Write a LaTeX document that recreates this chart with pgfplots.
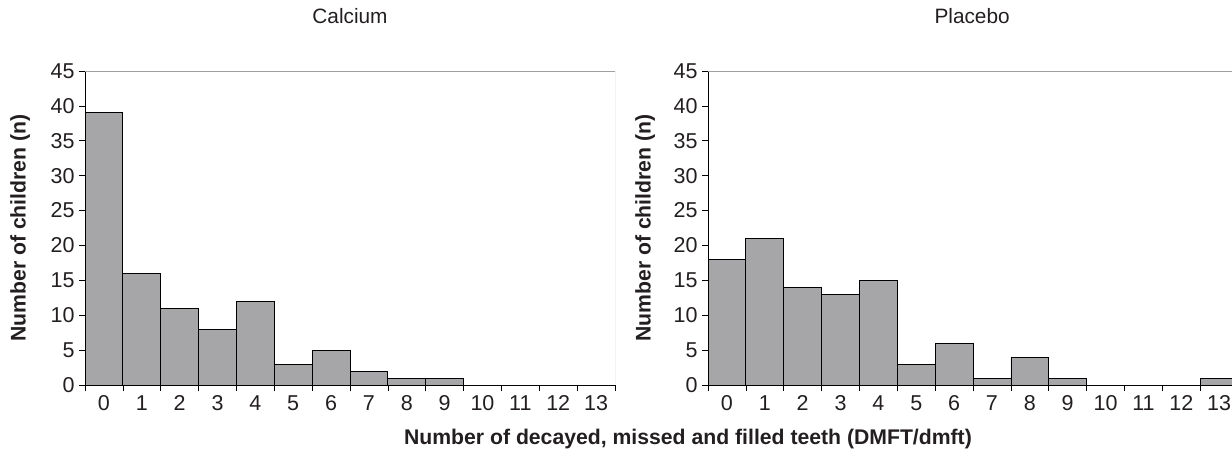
\documentclass[border=0pt]{standalone}
\usepackage{fontspec}
\setmainfont{Liberation Sans}
\usepackage{pgfplots}
\pgfplotsset{compat=1.18}
\definecolor{barfill}{RGB}{166,166,168}
\definecolor{spinegray}{RGB}{160,160,160}
\definecolor{txt}{RGB}{35,31,32}
\begin{document}
\begin{tikzpicture}[x=1pt,y=1pt]
\pgfplotsset{
  hist/.style={
    scale only axis,
    height=314pt,
    ymin=0, ymax=45,
    ytick={0,5,...,45},
    xtick={0,...,13},
    minor xtick={-0.5,0.5,...,13.5},
    major x tick style={draw=none},
    minor x tick style={black, line width=0.6pt},
    minor tick length=6pt,
    major tick length=6pt,
    tick align=outside,
    tick pos=left,
    separate axis lines,
    axis x line*=bottom,
    axis y line*=left,
    y axis line style={black,line width=0.9pt},
    x axis line style={black,line width=0.9pt},
    ytick style={black,line width=0.6pt},
    /pgf/number format/assume math mode=true,
    tick label style={font=\fontsize{21.5}{23}\selectfont, text=txt},
    yticklabel style={xshift=-1pt},
    xticklabel style={yshift=-1pt},
    ylabel style={font=\bfseries\fontsize{21.2}{23}\selectfont, text=txt, anchor=center},
    ylabel={Number of children (n)},
    title style={font=\fontsize{20.8}{22}\selectfont, text=txt, anchor=center},
    clip=true,
  }
}
\begin{axis}[hist, width=530pt, xmin=-0.5, xmax=13.5,
  at={(85pt,-385pt)}, anchor=south west,
  title={Calcium}, title style={at={(rel axis cs:0.5,1)}, yshift=49pt},
  ylabel style={at={(rel axis cs:-0.1226,0.5)}}]
\addplot[ybar, bar width=1, bar shift=0, fill=barfill, draw=black, line width=0.8pt]
  coordinates {(0,39) (1,16) (2,11) (3,8) (4,12) (5,3) (6,5) (7,2) (8,1) (9,1) (10,0) (11,0) (12,0) (13,0)};
\draw[spinegray, line width=0.8pt] (rel axis cs:0,1) -- (rel axis cs:1,1) -- (rel axis cs:1,0);
\end{axis}
\begin{axis}[hist, width=524pt, xmin=-0.5, xmax=13.34,
  at={(708pt,-385pt)}, anchor=south west,
  title={Placebo}, title style={at={(rel axis cs:0.504,1)}, yshift=49pt},
  ylabel style={at={(rel axis cs:-0.120,0.5)}}]
\addplot[ybar, bar width=1, bar shift=0, fill=barfill, draw=black, line width=0.8pt]
  coordinates {(0,18) (1,21) (2,14) (3,13) (4,15) (5,3) (6,6) (7,1) (8,4) (9,1) (10,0) (11,0) (12,0) (13,1)};
\draw[spinegray, line width=0.8pt] (rel axis cs:0,1) -- (rel axis cs:1,1);
\end{axis}
\node[font=\bfseries\fontsize{21.2}{23}\selectfont, text=txt] at (688pt,-439pt) {Number of decayed, missed and filled teeth (DMFT/dmft)};
\pgfresetboundingbox
\path[use as bounding box] (0,0) rectangle (1232pt,-456pt);
\end{tikzpicture}
\end{document}
